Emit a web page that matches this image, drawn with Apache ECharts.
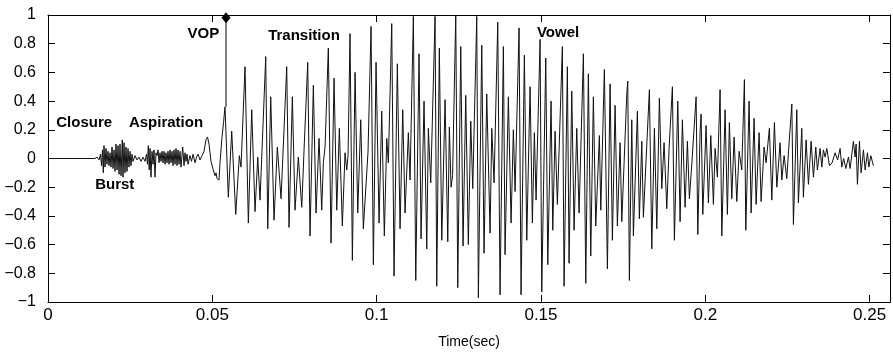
<!DOCTYPE html>
<html><head><meta charset="utf-8">
<script src="https://cdn.jsdelivr.net/npm/echarts@6/dist/echarts.min.js"></script>
<style>html,body{margin:0;padding:0;background:#fff}#c{width:893px;height:356px}</style>
</head><body><div id="c"></div>
<script>
// Tick values
const xTicks = [0, 0.05, 0.1, 0.15, 0.2, 0.25];
const yTicks = [-1, -0.8, -0.6, -0.4, -0.2, 0, 0.2, 0.4, 0.6, 0.8, 1];

// Waveform turning points, [time (ms), amplitude]
const closure = [[0,0],[14.30,0]];
const burst = [[14.91,0.01],[15.52,-0.01],[15.98,0.03],[16.28,-0.05],[16.59,0.06],[16.83,-0.10],[17.04,0.09],[17.35,-0.06],[17.65,0.07],[17.95,-0.04],[18.26,0.05],[18.56,-0.05],[18.87,0.04],[19.17,-0.06],[19.48,0.08],[19.78,-0.07],[20.09,0.06],[20.39,-0.09],[20.69,0.10],[21.00,-0.08],[21.30,0.09],[21.61,-0.11],[21.91,0.10],[22.22,-0.12],[22.61,0.13],[22.82,-0.13],[23.13,0.11],[23.43,-0.10],[23.74,0.08],[24.04,-0.09],[24.35,0.07],[24.65,-0.06],[24.95,0.05],[25.26,-0.05],[25.56,0.03],[25.87,-0.02],[26.48,0.02],[27.08,-0.01],[27.69,0.01],[28.30,-0.02],[28.91,0.01],[29.52,-0.02]];
const aspiration = [[29.98,0.03],[30.28,-0.04],[30.52,0.09],[30.80,-0.08],[31.04,0.07],[31.34,-0.13],[31.65,0.05],[31.95,-0.04],[32.26,0.06],[32.56,-0.13],[32.87,0.04],[33.17,0.02],[33.48,0.06],[33.78,-0.03],[34.08,0.04],[34.39,-0.02],[34.69,0.05],[35.00,-0.03],[35.30,0.05],[35.61,-0.04],[35.91,0.04],[36.21,-0.03],[36.52,0.05],[36.82,-0.04],[37.13,0.06],[37.43,-0.03],[37.74,0.05],[38.04,-0.05],[38.34,0.06],[38.65,-0.04],[38.95,0.07],[39.26,-0.05],[39.56,0.06],[39.87,-0.04],[40.17,0.05],[40.47,-0.06],[40.99,0.08],[41.39,-0.05],[41.69,0.04],[42.00,-0.02],[42.30,0.03],[42.60,-0.04],[43.21,0.02],[43.67,-0.02],[44.13,0.03],[44.74,-0.03],[45.19,0.01],[45.65,0.03],[46.26,-0.01],[46.87,0.02],[47.47,0.05],[48.08,0.13],[48.54,0.15],[49.00,0.10],[49.60,-0.02],[50.30,-0.08],[50.82,-0.12],[51.13,-0.10],[51.43,-0.14],[51.83,-0.13],[52.04,-0.15],[52.34,-0.03],[52.95,0.15],[53.41,0.25],[53.86,0.36]];
const transition = [[54.87,-0.27],[55.90,0.19],[57.12,-0.39],[58.22,0.02],[58.73,-0.06],[59.95,0.64],[60.96,-0.45],[61.99,0.34],[62.99,-0.37],[63.82,0.01],[64.52,-0.29],[66.25,0.71],[66.86,-0.49],[67.77,0.43],[68.78,-0.43],[69.78,0.08],[70.91,-0.28],[72.64,0.64],[73.34,-0.48],[74.35,0.43],[75.17,-0.36],[76.17,0.01],[77.21,-0.34],[78.00,0.11],[79.03,0.67],[79.73,-0.54],[80.74,0.51],[81.56,-0.38],[82.47,0.14],[83.29,-0.36],[83.78,-0.03],[84.30,0.08],[85.30,0.77],[86.12,-0.59],[87.04,0.56],[87.86,-0.36],[88.65,0.21],[89.56,-0.47],[90.38,0.04],[90.90,-0.08],[91.30,0.02],[91.90,0.87],[92.61,-0.71],[93.43,0.60],[94.25,-0.38],[95.16,0.27],[95.95,-0.49],[96.99,-0.10],[97.38,0.05],[98.30,0.92],[99.00,-0.74],[99.82,0.67],[100.73,-0.45],[101.55,0.33],[102.34,-0.54],[103.07,0.14],[103.56,-0.03],[104.59,0.94],[105.29,-0.82],[106.30,0.66],[107.12,-0.49],[107.94,0.34],[108.64,-0.38],[109.65,0.18],[110.16,-0.15],[111.17,0.99],[111.90,-0.85],[112.90,0.73],[113.51,-0.56],[114.42,0.40],[115.25,-0.63],[115.73,0.21],[116.46,-0.17]];
const vowel = [[117.77,0.99],[118.29,-0.89],[119.08,0.77],[119.81,-0.57],[120.82,0.41],[121.64,-0.58],[122.12,0.22],[122.64,-0.20],[123.10,-0.12],[124.07,1.0],[124.68,-0.90],[125.59,0.78],[126.29,-0.61],[127.11,0.44],[127.90,-0.60],[128.64,0.26],[129.24,-0.21],[130.46,0.99],[130.95,-0.97],[131.98,0.79],[132.68,-0.66],[133.50,0.45],[134.51,-0.52],[135.03,0.21],[135.73,-0.17],[136.85,0.95],[137.55,-0.95],[138.56,0.78],[139.07,-0.67],[140.08,0.43],[140.90,-0.45],[141.60,0.20],[142.12,-0.23],[143.33,0.91],[143.94,-0.95],[144.95,0.72],[145.68,-0.57],[146.68,0.50],[147.38,-0.45],[147.99,0.18],[148.51,-0.29],[149.73,0.83],[150.24,-0.93],[151.46,0.70],[152.07,-0.74],[153.07,0.40],[153.59,-0.50],[154.29,0.19],[154.99,-0.32],[156.51,0.78],[157.03,-0.89],[158.03,0.64],[158.55,-0.73],[159.37,0.47],[160.07,-0.50],[160.89,0.21],[161.59,-0.38],[162.91,0.73],[163.63,-0.87],[164.42,0.59],[165.15,-0.68],[165.94,0.43],[166.67,-0.47],[167.77,0.16],[168.20,-0.36],[169.29,0.62],[170.21,-0.77],[171.03,0.52],[171.73,-0.57],[172.55,0.37],[173.25,-0.47],[174.07,0.11],[174.59,-0.44],[176.11,0.45],[176.41,0.54],[176.90,-0.85],[177.63,0.27],[178.12,-0.54],[179.34,0.33],[179.94,-0.42],[180.67,0.12],[181.16,-0.41],[182.99,0.48],[183.72,-0.63],[184.51,0.21],[185.24,-0.49],[186.03,0.42],[186.76,-0.21],[187.46,0.11],[188.28,-0.35],[188.98,0.07],[189.99,0.50],[190.60,-0.57],[191.63,0.40],[192.33,-0.44],[193.03,0.27],[193.85,-0.34],[194.55,0.12],[195.16,-0.28],[195.89,-0.04]];
const decay = [[197.20,0.43],[197.72,-0.53],[198.42,0.19],[198.72,0.31],[199.24,-0.39],[200.24,0.23],[200.94,-0.31],[201.67,0.16],[202.47,-0.32],[202.98,0.07],[203.68,-0.13],[204.50,0.48],[205.02,-0.54],[206.02,0.34],[206.72,-0.39],[207.33,0.25],[208.06,-0.28],[208.76,0.15],[209.58,-0.30],[210.29,0.05],[211.10,-0.08],[211.90,0.55],[212.32,-0.50],[213.33,0.40],[213.94,-0.38],[214.84,0.28],[215.46,-0.32],[216.37,0.18],[216.98,-0.30],[217.89,0.08],[218.50,-0.03],[219.50,0.21],[220.24,-0.29],[221.03,0.25],[221.76,-0.20],[222.76,0.11],[223.28,-0.15],[223.98,0.02],[224.80,-0.14],[225.50,0.11],[226.33,0.38],[226.81,-0.46],[227.84,0.34],[228.33,-0.31],[229.36,0.21],[229.85,-0.27],[230.67,0.13],[231.38,-0.18],[232.20,0.12],[232.90,-0.13],[233.62,0.08],[234.11,-0.08],[234.93,0.07],[235.45,-0.06],[235.94,0.06],[236.46,0.01],[236.97,0.07],[237.77,-0.05],[238.59,-0.03],[239.50,0.04],[240.26,-0.01],[241.02,0.07],[241.54,-0.06],[242.09,0.00],[242.76,-0.07],[243.55,0.01],[244.06,-0.07],[245.07,0.12],[245.59,0.01],[245.89,0.10],[246.29,-0.18],[246.90,0.12],[247.42,-0.10],[248.12,0.06],[248.63,-0.08],[249.34,0.04],[249.76,-0.06],[250.37,0.02],[251.15,-0.05]];

// Vowel onset point marker: [time (ms), amplitude] at waveform and at top
const vopStem = [[54.17,0.36],[54.17,0.98]];

// Region annotations and their anchor points [time (ms), amplitude]
const annotationNames = ['Closure','Aspiration','Burst','VOP','Transition','Vowel'];
const annotationAnchors = [[11.0,0.247],[35.9,0.247],[20.3,-0.185],[47.3,0.872],[77.9,0.854],[155.2,0.879]];

const toSec = p => [p[0] / 1000, p[1]];
const wave = [].concat(closure, burst, aspiration, transition, vowel, decay).map(toSec);
const fmt = v => String(+Number(v).toFixed(2)).replace('-', '\u2212');
const FONT = 'Liberation Sans, Arial, Helvetica, sans-serif';
const black = '#000';

const chart = echarts.init(document.getElementById('c'), null, {renderer: 'canvas'});
const xCommon = {
  type: 'value', min: 0, max: 0.2562, gridIndex: 0,
  splitLine: {show: false},
  axisLine: {show: true, onZero: false, lineStyle: {color: black, width: 1}},
  axisTick: {show: true, inside: true, length: 7, customValues: xTicks, lineStyle: {color: black}},
};
const yCommon = {
  type: 'value', min: -1, max: 1, interval: 0.2, gridIndex: 0,
  splitLine: {show: false},
  axisLine: {show: true, onZero: false, lineStyle: {color: black, width: 1}},
  axisTick: {show: true, inside: true, length: 7, lineStyle: {color: black}},
};
chart.setOption({
  animation: false,
  backgroundColor: '#fff',
  grid: {left: 48, right: 3, top: 15, bottom: 54, containLabel: false},
  xAxis: [
    Object.assign({}, xCommon, {
      position: 'bottom',
      axisLabel: {show: true, customValues: xTicks, formatter: fmt, color: black, fontSize: 17, fontFamily: FONT, margin: 5},
      name: 'Time(sec)', nameLocation: 'middle', nameGap: 33,
      nameTextStyle: {color: black, fontSize: 14, fontFamily: FONT}
    }),
    Object.assign({}, xCommon, {position: 'top', axisLabel: {show: false}})
  ],
  yAxis: [
    Object.assign({}, yCommon, {
      position: 'left',
      axisLabel: {show: true, formatter: fmt, color: black, fontSize: 16, fontFamily: FONT, margin: 12}
    }),
    Object.assign({}, yCommon, {position: 'right', axisLabel: {show: false}})
  ],
  series: [
    {
      type: 'line', xAxisIndex: 0, yAxisIndex: 0, data: wave,
      showSymbol: false, symbol: 'none', silent: true,
      lineStyle: {color: '#111', width: 1}
    },
    {
      type: 'line', xAxisIndex: 0, yAxisIndex: 0, silent: true,
      data: [{value: toSec(vopStem[0]), symbol: 'none'}, {value: toSec(vopStem[1]), symbol: 'diamond', symbolSize: [9, 11]}],
      showSymbol: true,
      lineStyle: {color: black, width: 1},
      itemStyle: {color: black}
    },
    {
      type: 'scatter', xAxisIndex: 0, yAxisIndex: 0, silent: true,
      symbolSize: 1, itemStyle: {color: 'rgba(0,0,0,0)'},
      data: annotationNames.map((n, i) => ({name: n, value: toSec(annotationAnchors[i])})),
      label: {show: true, position: 'inside', formatter: '{b}', color: '#000', opacity: 1, textBorderWidth: 0, fontSize: 15, fontWeight: 'bold', fontFamily: FONT},
      z: 5
    }
  ]
});
</script></body></html>
